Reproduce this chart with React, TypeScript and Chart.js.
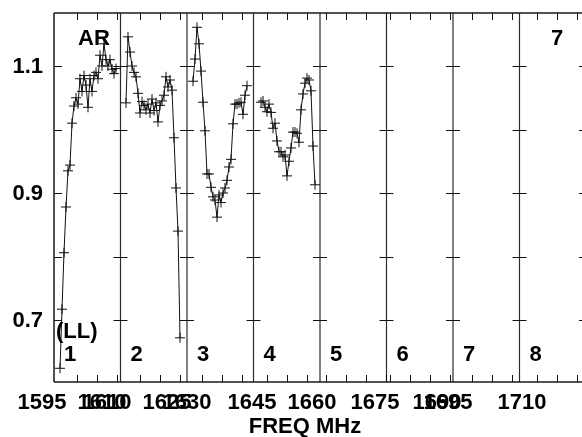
import React, { useEffect, useRef } from 'react';
import { Chart, registerables } from 'chart.js';

Chart.register(...registerables);

// ---- data ----
const PANEL_NUMBERS = ['1', '2', '3', '4', '5', '6', '7', '8'];
const PANEL_START_MHZ = [1598, 1613.4, 1630, 1645.4, 1661.25, 1677.4, 1696.25, 1709.4];
const PANEL_WIDTH_MHZ = 16.625;
const CHANNEL_WIDTH_MHZ = 0.5;
const FIRST_CHANNEL_MHZ = [1599.5, 1614.775, 1631.5, 1647.275];

const IF1_AMP = [0.624, 0.717, 0.806, 0.878, 0.935, 0.944, 1.010, 1.037, 1.050, 1.040, 1.080, 1.060, 1.085, 1.070, 1.035, 1.080, 1.060, 1.085, 1.090, 1.080, 1.117, 1.100, 1.135, 1.110, 1.100, 1.110, 1.095, 1.088, 1.096];
const IF2_AMP = [1.042, 1.146, 1.122, 1.100, 1.090, 1.083, 1.057, 1.026, 1.044, 1.038, 1.031, 1.040, 1.026, 1.048, 1.030, 1.042, 1.012, 1.038, 1.045, 1.054, 1.083, 1.067, 1.078, 1.062, 0.987, 0.908, 0.840, 0.672];
const IF3_AMP = [1.076, 1.111, 1.161, 1.135, 1.092, 1.043, 0.998, 0.930, 0.930, 0.909, 0.894, 0.889, 0.862, 0.897, 0.885, 0.900, 0.908, 0.920, 0.941, 0.953, 1.009, 1.040, 1.040, 1.042, 1.043, 1.024, 1.054, 1.069];
const IF4_AMP = [1.043, 1.045, 1.035, 1.028, 1.040, 1.027, 1.002, 1.010, 0.982, 0.965, 0.965, 0.957, 0.960, 0.927, 0.950, 0.971, 0.996, 0.996, 0.994, 0.980, 1.031, 1.056, 1.073, 1.081, 1.078, 1.061, 0.974, 0.913];
const IF_AMPS = [IF1_AMP, IF2_AMP, IF3_AMP, IF4_AMP];

const X_TICK_LABELS = [[1595, 1610], [1610, 1625], [1630], [1645, 1660], [1675], [1690], [1695], [1710]];
const X_MINOR_TICK_FIRST = [5.75, 4.875, 3.675, 3.3, 1.5, 0.875, 4.675, 4.3];
const X_MINOR_TICK_STEP = 5;
const X_TITLE = 'FREQ MHz';

const Y_TICKS = [0.7, 0.8, 0.9, 1.0, 1.1];
const Y_TICK_LABELS = [0.7, 0.9, 1.1];
const Y_MIN = 0.6024;
const Y_MAX = 1.1835;

const STOKES_LABEL = 'AR';
const POL_LABEL = '(LL)';
const CORNER_LABEL = '7';

const FONT = 'bold 22px "Liberation Sans", Arial, Helvetica, sans-serif';

const toGlobal = (p: number, f: number) => p * PANEL_WIDTH_MHZ + (f - PANEL_START_MHZ[p]);

const framePlugin = {
  id: 'possmFrame',
  beforeDatasetsDraw(chart: any) {
    const { ctx, chartArea: a, scales } = chart;
    const xs = scales.x;
    const ys = scales.y;
    ctx.save();
    // separators
    ctx.strokeStyle = '#2a2a2a';
    ctx.lineWidth = 1.2;
    for (let p = 1; p <= PANEL_NUMBERS.length; p++) {
      const x = xs.getPixelForValue(p * PANEL_WIDTH_MHZ);
      ctx.beginPath();
      ctx.moveTo(x, a.top);
      ctx.lineTo(x, a.bottom);
      ctx.stroke();
    }
    // frame
    ctx.strokeStyle = '#1a1a1a';
    ctx.lineWidth = 1.5;
    ctx.beginPath();
    ctx.moveTo(a.left, a.top);
    ctx.lineTo(a.left, a.bottom);
    ctx.moveTo(a.left, a.top);
    ctx.lineTo(a.right, a.top);
    ctx.moveTo(a.left, a.bottom);
    ctx.lineTo(a.right, a.bottom);
    ctx.stroke();
    // y ticks
    ctx.lineWidth = 1;
    ctx.strokeStyle = '#111';
    ctx.beginPath();
    for (const v of Y_TICKS) {
      const y = Math.round(ys.getPixelForValue(v)) + 0.5;
      ctx.moveTo(a.left, y);
      ctx.lineTo(a.left + 8, y);
      for (let p = 1; p <= PANEL_NUMBERS.length; p++) {
        const x = xs.getPixelForValue(p * PANEL_WIDTH_MHZ);
        ctx.moveTo(x - 7, y);
        ctx.lineTo(x + 7, y);
      }
    }
    // x minor ticks
    for (let p = 0; p < PANEL_NUMBERS.length; p++) {
      for (let off = X_MINOR_TICK_FIRST[p]; off < PANEL_WIDTH_MHZ; off += X_MINOR_TICK_STEP) {
        const x = Math.round(xs.getPixelForValue(p * PANEL_WIDTH_MHZ + off)) + 0.5;
        ctx.moveTo(x, a.top);
        ctx.lineTo(x, a.top + 7);
        ctx.moveTo(x, a.bottom);
        ctx.lineTo(x, a.bottom - 7);
      }
    }
    ctx.stroke();
    ctx.restore();
  },
  afterDraw(chart: any) {
    const { ctx, chartArea: a, scales } = chart;
    const xs = scales.x;
    const ys = scales.y;
    ctx.save();
    ctx.fillStyle = '#000';
    ctx.font = FONT;
    // y labels
    ctx.textAlign = 'right';
    ctx.textBaseline = 'middle';
    for (const v of Y_TICK_LABELS) {
      ctx.fillText(v.toFixed(1), a.left - 11, ys.getPixelForValue(v) + 1);
    }
    // x labels
    ctx.textAlign = 'center';
    ctx.textBaseline = 'alphabetic';
    X_TICK_LABELS.forEach((labels, p) => {
      for (const f of labels) {
        ctx.fillText(String(f), xs.getPixelForValue(toGlobal(p, f)), a.bottom + 27);
      }
    });
    // title
    ctx.fillText(X_TITLE, a.left + 251, a.bottom + 51);
    // panel numbers
    ctx.textAlign = 'left';
    PANEL_NUMBERS.forEach((n, p) => {
      ctx.fillText(n, xs.getPixelForValue(p * PANEL_WIDTH_MHZ) + 10, a.bottom - 21);
    });
    ctx.fillText(STOKES_LABEL, a.left + 24, a.top + 32);
    ctx.fillText(POL_LABEL, a.left + 2, a.bottom - 44);
    ctx.fillText(CORNER_LABEL, a.left + 497, a.top + 32);
    ctx.restore();
  },
};

export default function App() {
  const ref = useRef<HTMLCanvasElement>(null);
  useEffect(() => {
    if (!ref.current) return;
    const datasets = IF_AMPS.map((vals, p) => ({
      label: 'IF ' + PANEL_NUMBERS[p],
      data: vals.map((v, i) => ({ x: toGlobal(p, FIRST_CHANNEL_MHZ[p] + i * CHANNEL_WIDTH_MHZ), y: v })),
      borderColor: '#111',
      borderWidth: 1,
      pointStyle: 'cross',
      pointRadius: 5,
      pointBorderColor: '#111',
      pointBorderWidth: 1,
      pointBackgroundColor: '#111',
      tension: 0,
      fill: false,
    }));
    const chart = new Chart(ref.current, {
      type: 'line',
      data: { datasets },
      options: {
        animation: false,
        responsive: false,
        devicePixelRatio: 1,
        layout: { padding: { left: 54, right: 14, top: 13, bottom: 55 } },
        plugins: { legend: { display: false }, tooltip: { enabled: false }, title: { display: false } },
        scales: {
          x: { type: 'linear', min: 0, max: PANEL_NUMBERS.length * PANEL_WIDTH_MHZ, display: false },
          y: { type: 'linear', min: Y_MIN, max: Y_MAX, display: false },
        },
      },
      plugins: [framePlugin],
    } as any);
    return () => chart.destroy();
  }, []);
  return (
    <div style={{ position: 'fixed', left: 0, top: 0, width: 582, height: 437, overflow: 'hidden', background: '#fff' }}>
      <canvas ref={ref} width={600} height={437} style={{ display: 'block', width: 600, height: 437 }} />
    </div>
  );
}
